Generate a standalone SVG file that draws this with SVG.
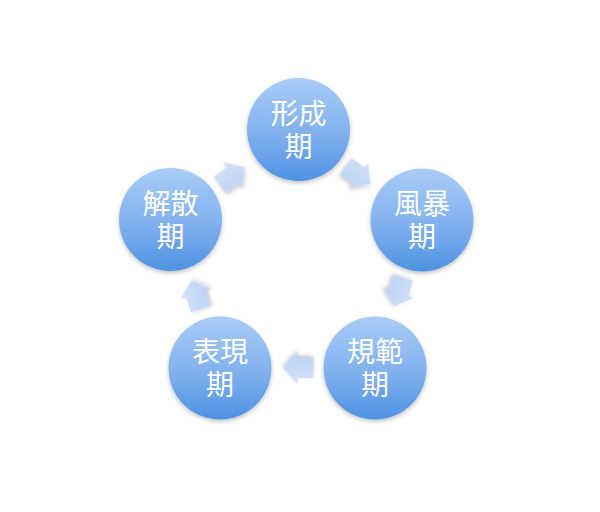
<svg xmlns="http://www.w3.org/2000/svg" width="600" height="512" viewBox="0 0 600 512">
  <defs>
    <linearGradient id="cg" x1="0" y1="0" x2="0" y2="1">
      <stop offset="0" stop-color="#a9ccf6"/>
      <stop offset="0.55" stop-color="#80b0ee"/>
      <stop offset="1" stop-color="#4e92e2"/>
    </linearGradient>
    <linearGradient id="ag" x1="0" y1="0" x2="0" y2="1">
      <stop offset="0" stop-color="#d3e1f8"/>
      <stop offset="1" stop-color="#bcd1f3"/>
    </linearGradient>
    <filter id="sh" x="-20%" y="-20%" width="140%" height="140%">
      <feDropShadow dx="0" dy="2" stdDeviation="2" flood-color="#000" flood-opacity="0.25"/>
    </filter>
    <path id="arr" d="M-15,-10 L1,-10 L1,-16 L15,0 L1,16 L1,10 L-15,10 Z"/>
  </defs>
  <style>
    .node circle { fill: url(#cg); filter: url(#sh); }
    .node text { fill: #ffffff; font-family: "Noto Sans CJK TC", "Noto Sans CJK SC", sans-serif; font-size: 28px; text-anchor: middle; }
    #connectors use { fill: url(#ag); filter: url(#sh); }
  </style>
  <rect width="600" height="512" fill="#ffffff"/>
  <g id="connectors">
    <use href="#arr" transform="translate(358,175) rotate(36)"/>
    <use href="#arr" transform="translate(399,292) rotate(108)"/>
    <use href="#arr" transform="translate(298,368) rotate(180)"/>
    <use href="#arr" transform="translate(196,295) rotate(-108)"/>
    <use href="#arr" transform="translate(232,176) rotate(-36)"/>
  </g>
  <g id="node-formation" class="node">
    <circle cx="298.5" cy="129.5" r="51.5"/>
    <text x="298.5" y="123.5">形成<tspan x="298.5" dy="33">期</tspan></text>
  </g>
  <g id="node-storming" class="node">
    <circle cx="422" cy="220" r="51.5"/>
    <text x="422" y="214">風暴<tspan x="422" dy="33">期</tspan></text>
  </g>
  <g id="node-norming" class="node">
    <circle cx="375" cy="368" r="51.5"/>
    <text x="375" y="362">規範<tspan x="375" dy="33">期</tspan></text>
  </g>
  <g id="node-performing" class="node">
    <circle cx="220" cy="368" r="51.5"/>
    <text x="220" y="362">表現<tspan x="220" dy="33">期</tspan></text>
  </g>
  <g id="node-adjourning" class="node">
    <circle cx="170.5" cy="219.5" r="51.5"/>
    <text x="170.5" y="213.5">解散<tspan x="170.5" dy="33">期</tspan></text>
  </g>
</svg>
